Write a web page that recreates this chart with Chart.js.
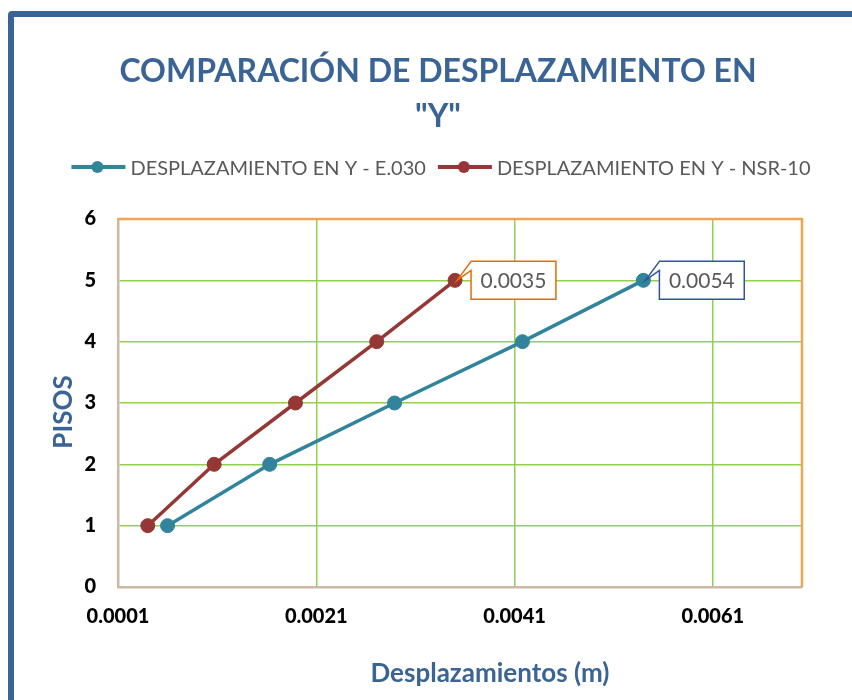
<!DOCTYPE html>
<html>
<head>
<meta charset="utf-8">
<title>Comparación de desplazamiento en Y</title>
<script src="https://cdn.jsdelivr.net/npm/chart.js@4.4.1/dist/chart.umd.min.js"></script>
<style>
  body { margin: 0; background: #fff; }
  #marco { position: absolute; left: 8px; top: 11px; width: 900px; height: 760px; border: 6px solid #3a6396; border-radius: 4px; }
  #contenedor { position: absolute; left: 0; top: 0; width: 852px; height: 700px; }
</style>
</head>
<body>
<div id="marco"></div>
<div id="contenedor"><canvas id="grafico" width="852" height="700"></canvas></div>
<script>
// pisos del edificio y desplazamientos (m) por cada norma
const pisos = [1, 2, 3, 4, 5];
const despE030 = [0.0006, 0.00163, 0.00289, 0.00418, 0.0054];
const despNSR10 = [0.0004, 0.00107, 0.00189, 0.00271, 0.0035];
const ticksX = [0.0001, 0.0021, 0.0041, 0.0061];
const nombres = ['DESPLAZAMIENTO EN Y - E.030', 'DESPLAZAMIENTO EN Y - NSR-10'];
const titulo = ['COMPARACIÓN DE DESPLAZAMIENTO EN', '"Y"'];

const colores = ['#31849b', '#953735'];
const bordesEtiqueta = ['#2f5597', '#e36c09'];
const azul = '#3a6396';
const verde = '#92d050';
const naranja = '#f2a451';
const beige = '#cdb9a7';

const grafx = document.getElementById('grafico').getContext('2d');

// marco superior y derecho del area de trazado
const marcoPlot = {
  id: 'marcoPlot',
  beforeDatasetsDraw(chart) {
    const { ctx, chartArea: a } = chart;
    ctx.save();
    ctx.strokeStyle = naranja;
    ctx.lineWidth = 2.5;
    ctx.beginPath();
    ctx.moveTo(a.left, a.top);
    ctx.lineTo(a.right, a.top);
    ctx.lineTo(a.right, a.bottom);
    ctx.stroke();
    ctx.restore();
  }
};

// etiqueta con flecha en el ultimo punto de cada serie
const etiquetas = {
  id: 'etiquetas',
  afterDatasetsDraw(chart) {
    const ctx = chart.ctx;
    chart.data.datasets.forEach((ds, i) => {
      const meta = chart.getDatasetMeta(i);
      const n = ds.data.length - 1;
      const pt = meta.data[n];
      const texto = ds.data[n].x.toFixed(4);
      ctx.save();
      ctx.font = '21px Lato';
      const w = ctx.measureText(texto).width + 19;
      const h = 38;
      const x0 = pt.x + 16;
      const y0 = pt.y - 19;
      ctx.beginPath();
      ctx.moveTo(x0, y0);
      ctx.lineTo(pt.x + 2, pt.y);
      ctx.lineTo(x0, y0 + 9);
      ctx.lineTo(x0, y0 + h);
      ctx.lineTo(x0 + w, y0 + h);
      ctx.lineTo(x0 + w, y0);
      ctx.closePath();
      ctx.fillStyle = '#fff';
      ctx.fill();
      ctx.strokeStyle = bordesEtiqueta[i];
      ctx.lineWidth = 1.5;
      ctx.stroke();
      ctx.fillStyle = '#595959';
      ctx.textAlign = 'center';
      ctx.textBaseline = 'middle';
      ctx.fillText(texto, x0 + w / 2, y0 + h / 2 + 1);
      ctx.restore();
    });
  }
};

// titulo, leyenda y titulos de ejes
const textos = {
  id: 'textos',
  afterDraw(chart) {
    const ctx = chart.ctx;
    ctx.save();
    ctx.fillStyle = azul;
    ctx.textAlign = 'center';
    ctx.textBaseline = 'alphabetic';
    ctx.font = 'bold 32px Lato';
    ctx.fillText(titulo[0], 438, 82);
    ctx.fillText(titulo[1], 438, 127);

    ctx.font = 'bold 26px Lato';
    ctx.fillText('Desplazamientos (m)', 490, 682);

    ctx.save();
    ctx.font = 'bold 26px Lato';
    ctx.translate(72, 412);
    ctx.rotate(-Math.PI / 2);
    ctx.fillText('PISOS', 0, 0);
    ctx.restore();

    // leyenda
    ctx.font = '20px Lato';
    ctx.textAlign = 'left';
    const anchos = nombres.map(t => ctx.measureText(t).width);
    const total = anchos[0] + anchos[1] + 2 * 59 + 12;
    let x = 441 - total / 2;
    const y = 167;
    nombres.forEach((t, i) => {
      ctx.strokeStyle = colores[i];
      ctx.lineWidth = 4;
      ctx.beginPath();
      ctx.moveTo(x, y);
      ctx.lineTo(x + 54, y);
      ctx.stroke();
      ctx.fillStyle = colores[i];
      ctx.beginPath();
      ctx.arc(x + 26, y, 6, 0, Math.PI * 2);
      ctx.fill();
      ctx.fillStyle = '#595959';
      ctx.fillText(t, x + 59, 175);
      x += 59 + anchos[i] + 12;
    });
    ctx.restore();
  }
};

const serie = (datos, i) => ({
  label: nombres[i],
  data: datos.map((d, k) => ({ x: d, y: pisos[k] })),
  borderColor: colores[i],
  backgroundColor: colores[i],
  borderWidth: 3.5,
  pointRadius: 7,
  pointHoverRadius: 7,
  pointBorderWidth: 1,
  tension: 0
});

const fuenteEjes = { family: 'Lato', weight: '900', size: 20 };

const grafico = new Chart(grafx, {
  type: 'line',
  data: {
    datasets: [serie(despE030, 0), serie(despNSR10, 1)]
  },
  options: {
    responsive: false,
    animation: false,
    layout: { padding: { left: 0, right: 50, top: 219, bottom: 0 } },
    plugins: {
      legend: { display: false },
      tooltip: { enabled: false }
    },
    scales: {
      x: {
        type: 'linear',
        min: 0.0001,
        max: 0.007,
        afterBuildTicks: s => { s.ticks = ticksX.map(v => ({ value: v })); },
        afterFit: s => { s.height = 113; },
        ticks: {
          color: '#000',
          font: fuenteEjes,
          padding: 18,
          callback: v => Number(v).toFixed(4)
        },
        grid: {
          drawTicks: false,
          lineWidth: 1.5,
          color: c => (c.tick && c.tick.value === 0.0001) ? 'transparent' : verde
        },
        border: { color: beige, width: 2.5 }
      },
      y: {
        min: 0,
        max: 6,
        afterFit: s => { s.width = 118; },
        ticks: {
          stepSize: 1,
          color: '#000',
          font: fuenteEjes,
          padding: 22
        },
        grid: {
          drawTicks: false,
          lineWidth: 1.5,
          color: c => (c.tick && (c.tick.value === 0 || c.tick.value === 6)) ? 'transparent' : verde
        },
        border: { color: beige, width: 2.5 }
      }
    }
  },
  plugins: [marcoPlot, etiquetas, textos]
});
</script>
</body>
</html>
